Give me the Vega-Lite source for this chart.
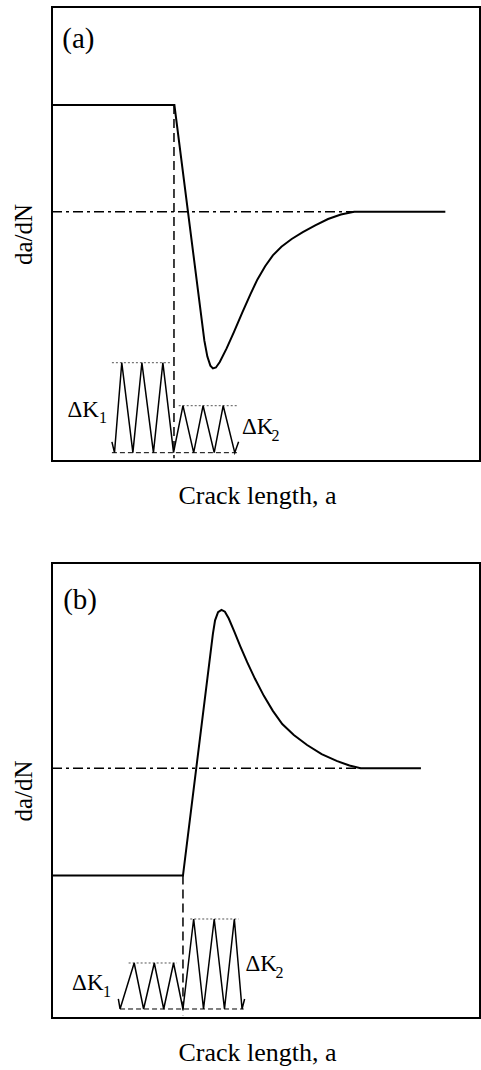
{
  "$schema": "https://vega.github.io/schema/vega-lite/v6.json",
  "padding": {"left": 10, "top": 6, "right": 0, "bottom": 0},
  "spacing": 53,
  "config": {
    "view": {"stroke": "black", "strokeWidth": 2},
    "font": "Liberation Serif",
    "text": {"font": "Liberation Serif"},
    "axis": {"labels": false, "ticks": false, "domain": false, "grid": false, "titleFont": "Liberation Serif", "titleFontWeight": "normal", "titleColor": "black"},
    "axisX": {"titlePadding": 21, "titleFontSize": 26, "titleX": 205, "titleAlign": "center"},
    "axisY": {"titlePadding": 16, "titleFontSize": 25}
  },
  "datasets": {
    "lines": [
      {"panel": "a", "series": "main", "seg": 1, "i": 0, "x": 0, "y": 78.4},
      {"panel": "a", "series": "main", "seg": 1, "i": 1, "x": 28.6, "y": 78.4},
      {"panel": "a", "series": "main", "seg": 1, "i": 2, "x": 35.6, "y": 26.5},
      {"panel": "a", "series": "main", "seg": 1, "i": 3, "x": 36.3, "y": 23.0},
      {"panel": "a", "series": "main", "seg": 1, "i": 4, "x": 37.0, "y": 21.0},
      {"panel": "a", "series": "main", "seg": 1, "i": 5, "x": 37.6, "y": 20.4},
      {"panel": "a", "series": "main", "seg": 1, "i": 6, "x": 38.3, "y": 20.6},
      {"panel": "a", "series": "main", "seg": 1, "i": 7, "x": 39.2, "y": 21.8},
      {"panel": "a", "series": "main", "seg": 1, "i": 8, "x": 40.8, "y": 24.8},
      {"panel": "a", "series": "main", "seg": 1, "i": 9, "x": 42.5, "y": 28.4},
      {"panel": "a", "series": "main", "seg": 1, "i": 10, "x": 44.5, "y": 32.8},
      {"panel": "a", "series": "main", "seg": 1, "i": 11, "x": 46.4, "y": 36.8},
      {"panel": "a", "series": "main", "seg": 1, "i": 12, "x": 48.0, "y": 40.0},
      {"panel": "a", "series": "main", "seg": 1, "i": 13, "x": 49.8, "y": 42.9},
      {"panel": "a", "series": "main", "seg": 1, "i": 14, "x": 51.6, "y": 45.3},
      {"panel": "a", "series": "main", "seg": 1, "i": 15, "x": 53.6, "y": 47.2},
      {"panel": "a", "series": "main", "seg": 1, "i": 16, "x": 56.0, "y": 48.9},
      {"panel": "a", "series": "main", "seg": 1, "i": 17, "x": 58.6, "y": 50.4},
      {"panel": "a", "series": "main", "seg": 1, "i": 18, "x": 61.5, "y": 51.9},
      {"panel": "a", "series": "main", "seg": 1, "i": 19, "x": 64.5, "y": 53.3},
      {"panel": "a", "series": "main", "seg": 1, "i": 20, "x": 67.5, "y": 54.3},
      {"panel": "a", "series": "main", "seg": 1, "i": 21, "x": 70.6, "y": 54.9},
      {"panel": "a", "series": "main", "seg": 1, "i": 22, "x": 91.9, "y": 54.9},
      {"panel": "a", "series": "dashdot", "seg": 1, "i": 0, "x": 0, "y": 54.9},
      {"panel": "a", "series": "dashdot", "seg": 1, "i": 1, "x": 70.6, "y": 54.9},
      {"panel": "a", "series": "vdash", "seg": 1, "i": 0, "x": 28.5, "y": 78.4},
      {"panel": "a", "series": "vdash", "seg": 1, "i": 1, "x": 28.5, "y": 0.6},
      {"panel": "a", "series": "wave", "seg": 1, "i": 0, "x": 14.0, "y": 4.2},
      {"panel": "a", "series": "wave", "seg": 1, "i": 1, "x": 14.6, "y": 1.83},
      {"panel": "a", "series": "wave", "seg": 1, "i": 2, "x": 16.3, "y": 21.65},
      {"panel": "a", "series": "wave", "seg": 1, "i": 3, "x": 18.9, "y": 1.83},
      {"panel": "a", "series": "wave", "seg": 1, "i": 4, "x": 21.0, "y": 21.65},
      {"panel": "a", "series": "wave", "seg": 1, "i": 5, "x": 23.7, "y": 1.83},
      {"panel": "a", "series": "wave", "seg": 1, "i": 6, "x": 25.9, "y": 21.65},
      {"panel": "a", "series": "wave", "seg": 1, "i": 7, "x": 28.4, "y": 1.83},
      {"panel": "a", "series": "wave", "seg": 1, "i": 8, "x": 30.6, "y": 12.18},
      {"panel": "a", "series": "wave", "seg": 1, "i": 9, "x": 33.1, "y": 1.83},
      {"panel": "a", "series": "wave", "seg": 1, "i": 10, "x": 35.3, "y": 12.18},
      {"panel": "a", "series": "wave", "seg": 1, "i": 11, "x": 37.9, "y": 1.83},
      {"panel": "a", "series": "wave", "seg": 1, "i": 12, "x": 40.0, "y": 12.18},
      {"panel": "a", "series": "wave", "seg": 1, "i": 13, "x": 42.7, "y": 1.83},
      {"panel": "a", "series": "wave", "seg": 1, "i": 14, "x": 43.6, "y": 4.25},
      {"panel": "a", "series": "base", "seg": 1, "i": 0, "x": 14.0, "y": 1.83},
      {"panel": "a", "series": "base", "seg": 1, "i": 1, "x": 43.6, "y": 1.83},
      {"panel": "a", "series": "dot", "seg": 1, "i": 0, "x": 14.0, "y": 21.65},
      {"panel": "a", "series": "dot", "seg": 1, "i": 1, "x": 27.6, "y": 21.65},
      {"panel": "a", "series": "dot", "seg": 2, "i": 0, "x": 29.6, "y": 12.18},
      {"panel": "a", "series": "dot", "seg": 2, "i": 1, "x": 43.3, "y": 12.18},

      {"panel": "b", "series": "main", "seg": 1, "i": 0, "x": 0, "y": 31.3},
      {"panel": "b", "series": "main", "seg": 1, "i": 1, "x": 30.6, "y": 31.3},
      {"panel": "b", "series": "main", "seg": 1, "i": 2, "x": 37.6, "y": 84.5},
      {"panel": "b", "series": "main", "seg": 1, "i": 3, "x": 38.1, "y": 87.4},
      {"panel": "b", "series": "main", "seg": 1, "i": 4, "x": 38.8, "y": 89.2},
      {"panel": "b", "series": "main", "seg": 1, "i": 5, "x": 39.6, "y": 89.7},
      {"panel": "b", "series": "main", "seg": 1, "i": 6, "x": 40.4, "y": 89.3},
      {"panel": "b", "series": "main", "seg": 1, "i": 7, "x": 41.3, "y": 87.8},
      {"panel": "b", "series": "main", "seg": 1, "i": 8, "x": 42.6, "y": 84.9},
      {"panel": "b", "series": "main", "seg": 1, "i": 9, "x": 44.0, "y": 81.7},
      {"panel": "b", "series": "main", "seg": 1, "i": 10, "x": 45.6, "y": 78.2},
      {"panel": "b", "series": "main", "seg": 1, "i": 11, "x": 47.4, "y": 74.6},
      {"panel": "b", "series": "main", "seg": 1, "i": 12, "x": 49.5, "y": 70.8},
      {"panel": "b", "series": "main", "seg": 1, "i": 13, "x": 51.6, "y": 67.5},
      {"panel": "b", "series": "main", "seg": 1, "i": 14, "x": 53.8, "y": 64.6},
      {"panel": "b", "series": "main", "seg": 1, "i": 15, "x": 56.5, "y": 62.2},
      {"panel": "b", "series": "main", "seg": 1, "i": 16, "x": 59.6, "y": 60.0},
      {"panel": "b", "series": "main", "seg": 1, "i": 17, "x": 63.0, "y": 58.0},
      {"panel": "b", "series": "main", "seg": 1, "i": 18, "x": 66.5, "y": 56.5},
      {"panel": "b", "series": "main", "seg": 1, "i": 19, "x": 69.5, "y": 55.5},
      {"panel": "b", "series": "main", "seg": 1, "i": 20, "x": 72.1, "y": 54.9},
      {"panel": "b", "series": "main", "seg": 1, "i": 21, "x": 86.2, "y": 54.9},
      {"panel": "b", "series": "dashdot", "seg": 1, "i": 0, "x": 0, "y": 54.9},
      {"panel": "b", "series": "dashdot", "seg": 1, "i": 1, "x": 72.1, "y": 54.9},
      {"panel": "b", "series": "vdash", "seg": 1, "i": 0, "x": 30.6, "y": 31.3},
      {"panel": "b", "series": "vdash", "seg": 1, "i": 1, "x": 30.6, "y": 0.5},
      {"panel": "b", "series": "wave", "seg": 1, "i": 0, "x": 15.5, "y": 4.18},
      {"panel": "b", "series": "wave", "seg": 1, "i": 1, "x": 15.9, "y": 1.98},
      {"panel": "b", "series": "wave", "seg": 1, "i": 2, "x": 19.2, "y": 12.09},
      {"panel": "b", "series": "wave", "seg": 1, "i": 3, "x": 21.4, "y": 1.98},
      {"panel": "b", "series": "wave", "seg": 1, "i": 4, "x": 23.9, "y": 12.09},
      {"panel": "b", "series": "wave", "seg": 1, "i": 5, "x": 26.1, "y": 1.98},
      {"panel": "b", "series": "wave", "seg": 1, "i": 6, "x": 28.4, "y": 12.09},
      {"panel": "b", "series": "wave", "seg": 1, "i": 7, "x": 30.6, "y": 1.98},
      {"panel": "b", "series": "wave", "seg": 1, "i": 8, "x": 33.1, "y": 21.76},
      {"panel": "b", "series": "wave", "seg": 1, "i": 9, "x": 35.4, "y": 1.98},
      {"panel": "b", "series": "wave", "seg": 1, "i": 10, "x": 37.9, "y": 21.76},
      {"panel": "b", "series": "wave", "seg": 1, "i": 11, "x": 40.3, "y": 1.98},
      {"panel": "b", "series": "wave", "seg": 1, "i": 12, "x": 42.6, "y": 21.76},
      {"panel": "b", "series": "wave", "seg": 1, "i": 13, "x": 44.4, "y": 1.98},
      {"panel": "b", "series": "wave", "seg": 1, "i": 14, "x": 45.0, "y": 4.18},
      {"panel": "b", "series": "base", "seg": 1, "i": 0, "x": 15.9, "y": 1.98},
      {"panel": "b", "series": "base", "seg": 1, "i": 1, "x": 44.8, "y": 1.98},
      {"panel": "b", "series": "dot", "seg": 1, "i": 0, "x": 17.9, "y": 12.09},
      {"panel": "b", "series": "dot", "seg": 1, "i": 1, "x": 29.2, "y": 12.09},
      {"panel": "b", "series": "dot", "seg": 2, "i": 0, "x": 32.3, "y": 21.76},
      {"panel": "b", "series": "dot", "seg": 2, "i": 1, "x": 43.6, "y": 21.76}
    ],
    "labels": [
      {"panel": "a", "kind": "tag", "text": "(a)", "x": 2.4, "y": 91.0},
      {"panel": "a", "kind": "dk", "text": "ΔK", "x": 3.6, "y": 9.7},
      {"panel": "a", "kind": "sub", "text": "1", "x": 11.0, "y": 8.4},
      {"panel": "a", "kind": "dk", "text": "ΔK", "x": 44.4, "y": 5.9},
      {"panel": "a", "kind": "sub", "text": "2", "x": 51.3, "y": 4.4},
      {"panel": "b", "kind": "tag", "text": "(b)", "x": 2.6, "y": 90.0},
      {"panel": "b", "kind": "dk", "text": "ΔK", "x": 4.7, "y": 6.15},
      {"panel": "b", "kind": "sub", "text": "1", "x": 11.9, "y": 4.6},
      {"panel": "b", "kind": "dk", "text": "ΔK", "x": 45.2, "y": 10.3},
      {"panel": "b", "kind": "sub", "text": "2", "x": 52.2, "y": 8.8}
    ]
  },
  "vconcat": [
    {
      "width": 428,
      "height": 454,
      "encoding": {
        "x": {"field": "x", "type": "quantitative", "scale": {"domain": [0, 100], "nice": false, "zero": false}, "axis": {"title": "Crack length, a"}},
        "y": {"field": "y", "type": "quantitative", "scale": {"domain": [0, 100], "nice": false, "zero": false}, "axis": {"title": "da/dN"}}
      },
      "layer": [
        {"data": {"name": "lines"}, "transform": [{"filter": "datum.panel == 'a' && datum.series == 'dashdot'"}], "mark": {"type": "line", "color": "black", "strokeWidth": 1.5, "strokeDash": [10, 4, 3, 4]}, "encoding": {"order": {"field": "i"}, "detail": {"field": "seg"}}},
        {"data": {"name": "lines"}, "transform": [{"filter": "datum.panel == 'a' && datum.series == 'vdash'"}], "mark": {"type": "line", "color": "black", "strokeWidth": 1.5, "strokeDash": [9, 5]}, "encoding": {"order": {"field": "i"}, "detail": {"field": "seg"}}},
        {"data": {"name": "lines"}, "transform": [{"filter": "datum.panel == 'a' && datum.series == 'base'"}], "mark": {"type": "line", "color": "black", "strokeWidth": 1, "strokeDash": [5, 3]}, "encoding": {"order": {"field": "i"}, "detail": {"field": "seg"}}},
        {"data": {"name": "lines"}, "transform": [{"filter": "datum.panel == 'a' && datum.series == 'dot'"}], "mark": {"type": "line", "color": "#555555", "strokeWidth": 1, "strokeDash": [2, 2]}, "encoding": {"order": {"field": "i"}, "detail": {"field": "seg"}}},
        {"data": {"name": "lines"}, "transform": [{"filter": "datum.panel == 'a' && datum.series == 'wave'"}], "mark": {"type": "line", "color": "black", "strokeWidth": 1.5}, "encoding": {"order": {"field": "i"}, "detail": {"field": "seg"}}},
        {"data": {"name": "lines"}, "transform": [{"filter": "datum.panel == 'a' && datum.series == 'main'"}], "mark": {"type": "line", "color": "black", "strokeWidth": 2}, "encoding": {"order": {"field": "i"}, "detail": {"field": "seg"}}},
        {"data": {"name": "labels"}, "transform": [{"filter": "datum.panel == 'a' && datum.kind == 'tag'"}], "mark": {"type": "text", "align": "left", "baseline": "alphabetic", "fontSize": 29, "color": "black"}, "encoding": {"text": {"field": "text"}}},
        {"data": {"name": "labels"}, "transform": [{"filter": "datum.panel == 'a' && datum.kind == 'dk'"}], "mark": {"type": "text", "align": "left", "baseline": "alphabetic", "fontSize": 23, "color": "black"}, "encoding": {"text": {"field": "text"}}},
        {"data": {"name": "labels"}, "transform": [{"filter": "datum.panel == 'a' && datum.kind == 'sub'"}], "mark": {"type": "text", "align": "left", "baseline": "alphabetic", "fontSize": 16, "color": "black"}, "encoding": {"text": {"field": "text"}}}
      ]
    },
    {
      "width": 428,
      "height": 455,
      "encoding": {
        "x": {"field": "x", "type": "quantitative", "scale": {"domain": [0, 100], "nice": false, "zero": false}, "axis": {"title": "Crack length, a"}},
        "y": {"field": "y", "type": "quantitative", "scale": {"domain": [0, 100], "nice": false, "zero": false}, "axis": {"title": "da/dN"}}
      },
      "layer": [
        {"data": {"name": "lines"}, "transform": [{"filter": "datum.panel == 'b' && datum.series == 'dashdot'"}], "mark": {"type": "line", "color": "black", "strokeWidth": 1.5, "strokeDash": [10, 4, 3, 4]}, "encoding": {"order": {"field": "i"}, "detail": {"field": "seg"}}},
        {"data": {"name": "lines"}, "transform": [{"filter": "datum.panel == 'b' && datum.series == 'vdash'"}], "mark": {"type": "line", "color": "black", "strokeWidth": 1.5, "strokeDash": [9, 5]}, "encoding": {"order": {"field": "i"}, "detail": {"field": "seg"}}},
        {"data": {"name": "lines"}, "transform": [{"filter": "datum.panel == 'b' && datum.series == 'base'"}], "mark": {"type": "line", "color": "black", "strokeWidth": 1, "strokeDash": [5, 3]}, "encoding": {"order": {"field": "i"}, "detail": {"field": "seg"}}},
        {"data": {"name": "lines"}, "transform": [{"filter": "datum.panel == 'b' && datum.series == 'dot'"}], "mark": {"type": "line", "color": "#555555", "strokeWidth": 1, "strokeDash": [2, 2]}, "encoding": {"order": {"field": "i"}, "detail": {"field": "seg"}}},
        {"data": {"name": "lines"}, "transform": [{"filter": "datum.panel == 'b' && datum.series == 'wave'"}], "mark": {"type": "line", "color": "black", "strokeWidth": 1.5}, "encoding": {"order": {"field": "i"}, "detail": {"field": "seg"}}},
        {"data": {"name": "lines"}, "transform": [{"filter": "datum.panel == 'b' && datum.series == 'main'"}], "mark": {"type": "line", "color": "black", "strokeWidth": 2}, "encoding": {"order": {"field": "i"}, "detail": {"field": "seg"}}},
        {"data": {"name": "labels"}, "transform": [{"filter": "datum.panel == 'b' && datum.kind == 'tag'"}], "mark": {"type": "text", "align": "left", "baseline": "alphabetic", "fontSize": 29, "color": "black"}, "encoding": {"text": {"field": "text"}}},
        {"data": {"name": "labels"}, "transform": [{"filter": "datum.panel == 'b' && datum.kind == 'dk'"}], "mark": {"type": "text", "align": "left", "baseline": "alphabetic", "fontSize": 23, "color": "black"}, "encoding": {"text": {"field": "text"}}},
        {"data": {"name": "labels"}, "transform": [{"filter": "datum.panel == 'b' && datum.kind == 'sub'"}], "mark": {"type": "text", "align": "left", "baseline": "alphabetic", "fontSize": 16, "color": "black"}, "encoding": {"text": {"field": "text"}}}
      ]
    }
  ]
}
